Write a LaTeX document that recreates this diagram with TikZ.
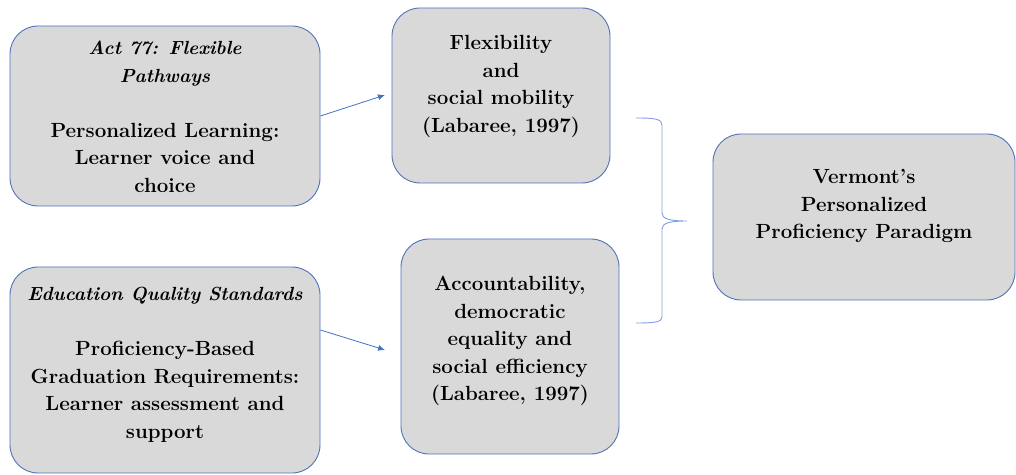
\documentclass[tikz,border=0pt]{standalone}
\usepackage{fontspec}
\usetikzlibrary{arrows.meta}
\definecolor{boxblue}{HTML}{4F72B8}
\definecolor{boxgray}{HTML}{D9D9D9}
\definecolor{arrblue}{HTML}{4472C4}
\definecolor{braceblue}{HTML}{7F9FE0}
\newcommand{\itl}[1]{{\fontsize{19}{27.5}\selectfont\itshape #1}}
\begin{document}
\begin{tikzpicture}[x=1pt,y=1pt,
 box/.style={draw=boxblue, line width=0.9pt, fill=boxgray, rounded corners=28pt, inner sep=0pt},
 txt/.style={align=center, font=\fontsize{20.5}{27.5}\selectfont\bfseries, inner sep=0pt},
 arr/.style={draw=arrblue, line width=0.8pt, -{Latex[length=7pt,width=6pt]}},
 brc/.style={draw=braceblue, line width=0.9pt}]
\useasboundingbox (0,0) rectangle (1016,474);
\node[box, minimum width=310pt, minimum height=180pt] (b1) at (165,358) {};
\node[box, minimum width=310pt, minimum height=206pt] (b2) at (165,104) {};
\node[box, minimum width=218pt, minimum height=175pt] (b3) at (501,378.5) {};
\node[box, minimum width=218pt, minimum height=215pt] (b4) at (510,127.5) {};
\node[box, minimum width=302pt, minimum height=166pt] (b5) at (864,257) {};
\node[txt] (t1) at (165,357) {\itl{Act 77: Flexible}\\\itl{Pathways}\\[27.5pt]Personalized Learning:\\Learner voice and\\choice};
\node[txt] (t2) at (165,109) {\itl{Education Quality Standards}\\[27.5pt]Proficiency-Based\\Graduation Requirements:\\Learner assessment and\\support};
\node[txt] (t3) at (501,387.5) {Flexibility\\and\\social mobility\\(Labaree, 1997)};
\node[txt] (t4) at (510,133) {Accountability,\\democratic\\equality and\\social efficiency\\(Labaree, 1997)};
\node[txt] (t5) at (864,268) {Vermont’s\\Personalized\\Proficiency Paradigm};
\coordinate (a1e) at (385,379);
\coordinate (a2e) at (385,124);
\draw[arr] (b1.east) -- (a1e);
\draw[arr] ([yshift=40pt]b2.east) -- (a2e);
\coordinate (tip) at (687,253);
\draw[brc] (636,356) .. controls (655,356) and (662,355) .. (662,349) -- (662,261) .. controls (662,255) and (670,253) .. (tip) .. controls (670,253) and (662,251) .. (662,245) -- (662,157) .. controls (662,152) and (655,151) .. (636,151);
\end{tikzpicture}
\end{document}
